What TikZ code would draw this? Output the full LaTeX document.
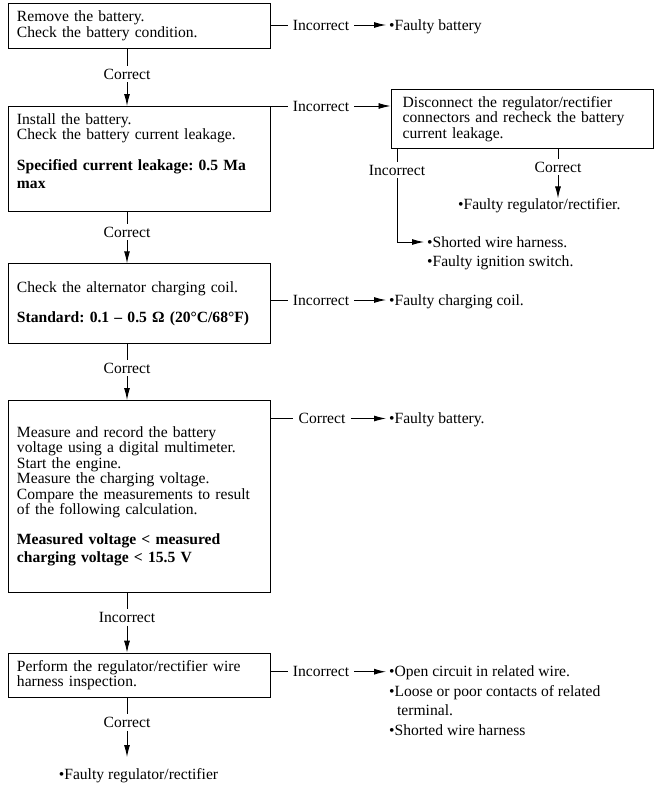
\documentclass[tikz,border=0pt]{standalone}
\usepackage{fontspec}
\setmainfont{Liberation Serif}
\usetikzlibrary{arrows.meta}

\begin{document}
\begin{tikzpicture}[x=0.75pt, y=-0.75pt, line width=0.7pt, >={Latex[length=9pt,width=4.5pt]},
    font=\fontsize{11.7}{11.55}\selectfont\frenchspacing,
    box/.style={draw, anchor=north west, align=left, text width=183pt, inner xsep=6.75pt, inner ysep=0pt},
    lbl/.style={inner xsep=3.5pt, inner ysep=2pt, text height=7.7pt, text depth=0pt},
    res/.style={anchor=west, inner sep=2pt, text height=7.7pt, text depth=0pt}]
    \useasboundingbox (0,0) rectangle (664,797);

    % Step boxes (left column)
    \node[box, minimum height=34.2pt] (remove) at (7.5,2.7) {Remove the battery.\\Check the battery condition.};
    \node[box, minimum height=78.75pt] (install) at (7.5,106) {Install the battery.\\Check the battery current leakage.\\[11.7pt]\textbf{Specified current leakage: 0.5 Ma}\\[1.8pt]\textbf{max}\\[0.8pt]\mbox{}};
    \node[box, minimum height=60pt] (coil) at (7.5,263.3) {Check the alternator charging coil.\\[11pt]\textbf{Standard: 0.1 – 0.5 Ω (20°C/68°F)}};
    \node[box, minimum height=143.75pt] (measure) at (7.5,400) {Measure and record the battery\\voltage using a digital multimeter.\\Start the engine.\\Measure the charging voltage.\\Compare the measurements to result\\of the following calculation.\\[10.7pt]\textbf{Measured voltage < measured}\\[2.2pt]\textbf{charging voltage < 15.5 V}};
    \node[box, minimum height=33pt] (harness) at (7.5,652.7) {Perform the regulator/rectifier wire\\harness inspection.};
    \node[box, text width=178.9pt, inner xsep=8.8pt, minimum height=43.8pt] (disconnect) at (390.5,89.3) {Disconnect the regulator/rectifier\\connectors and recheck the battery\\current leakage.};

    % Labels on the connectors
    \node[lbl] (corr1) at (127,74) {Correct};
    \node[lbl] (corr2) at (127,232) {Correct};
    \node[lbl] (corr3) at (127,368) {Correct};
    \node[lbl] (inc4) at (127,617.5) {Incorrect};
    \node[lbl] (corr5) at (127,722.5) {Correct};
    \node[lbl] (inc1) at (321,25) {Incorrect};
    \node[lbl] (inc2) at (321,106) {Incorrect};
    \node[lbl] (inc3) at (321,300) {Incorrect};
    \node[lbl] (corr4) at (322,418.5) {Correct};
    \node[lbl] (inc5) at (321,671.7) {Incorrect};
    \node[lbl] (inc6) at (397,170) {Incorrect};
    \node[lbl] (corr6) at (558,167) {Correct};

    % Results
    \node[res] (res1) at (386,25) {•Faulty battery};
    \node[res, inner ysep=0pt] (res2) at (455,204) {•Faulty regulator/rectifier.};
    \node[res] (res3) at (424,242) {\begin{tabular}[t]{@{}l@{}}•Shorted wire harness.\\[3.2pt]•Faulty ignition switch.\end{tabular}};
    \node[res] (res4) at (386,300) {•Faulty charging coil.};
    \node[res] (res5) at (386,418.5) {•Faulty battery.};
    \node[res] (res6) at (386,671.7) {\begin{tabular}[t]{@{}l@{}}•Open circuit in related wire.\\[3pt]•Loose or poor contacts of related\\[3pt]\hspace*{6pt}terminal.\\[3pt]•Shorted wire harness\end{tabular}};
    \node[res, anchor=center, inner ysep=8.5pt] (res7) at (138.5,774) {•Faulty regulator/rectifier};

    % Main column
    \draw (remove.south -| corr1) -- (corr1.north);
    \draw[->] (corr1.south) -- (install.north -| corr1);
    \draw (install.south -| corr2) -- (corr2.north);
    \draw[->] (corr2.south) -- (coil.north -| corr2);
    \draw (coil.south -| corr3) -- (corr3.north);
    \draw[->] (corr3.south) -- (measure.north -| corr3);
    \draw (measure.south -| inc4) -- (inc4.north);
    \draw[->] (inc4.south) -- (harness.north -| inc4);
    \draw (harness.south -| corr5) -- (corr5.north);
    \draw[->] (corr5.south) -- (res7.north -| corr5);

    % Side branches
    \draw (remove.east |- inc1) -- (inc1.west);
    \draw[->] (inc1.east) -- (res1.west);
    \draw (install.east |- inc2) -- (inc2.west);
    \draw[->] (inc2.east) -- (disconnect.west |- inc2);
    \draw (coil.east |- inc3) -- (inc3.west);
    \draw[->] (inc3.east) -- (res4.west);
    \draw (measure.east |- corr4) -- (corr4.west);
    \draw[->] (corr4.east) -- (res5.west);
    \draw (harness.east |- inc5) -- (inc5.west);
    \draw[->] (inc5.east) -- (res6.west);

    % Recheck branches
    \draw (disconnect.south -| inc6) -- (inc6.north);
    \draw[->] (inc6.south) |- (res3.west);
    \draw (disconnect.south -| corr6) -- (corr6.north);
    \draw[->] (corr6.south) -- (res2.north -| corr6);
\end{tikzpicture}
\end{document}
